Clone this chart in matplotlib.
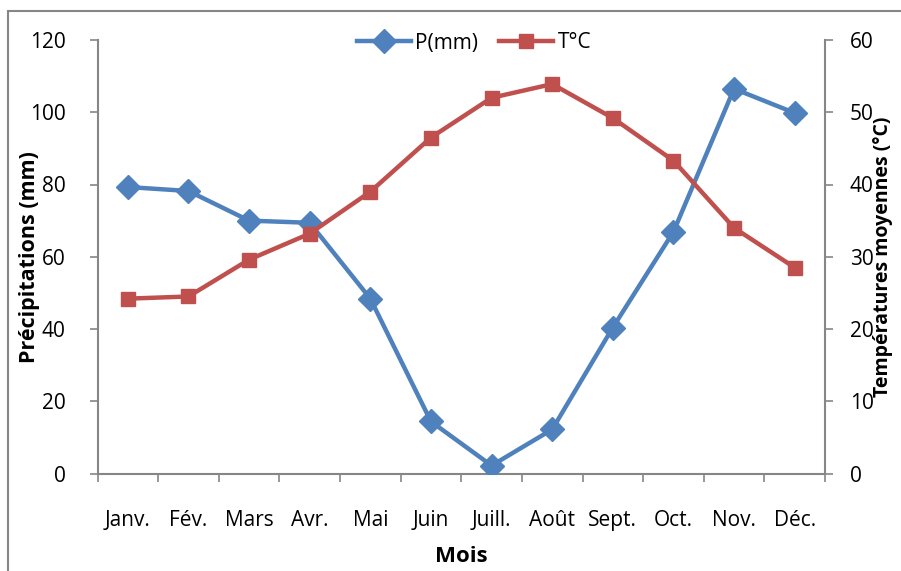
import matplotlib
matplotlib.use("Agg")
import matplotlib.pyplot as plt
from matplotlib.patches import Rectangle

months = ["Janv.", "Fév.", "Mars", "Avr.", "Mai", "Juin", "Juill.", "Août", "Sept.", "Oct.", "Nov.", "Déc."]
precip = [79.3, 78.2, 70.0, 69.4, 48.4, 14.4, 2.2, 12.2, 40.4, 66.9, 106.5, 99.8]
temp = [24.2, 24.5, 29.6, 33.2, 39.0, 46.5, 52.0, 53.9, 49.2, 43.3, 34.0, 28.5]
left_ticks = [0, 20, 40, 60, 80, 100, 120]
right_ticks = [0, 10, 20, 30, 40, 50, 60]

plt.rcParams['font.family'] = ['Open Sans', 'DejaVu Sans']
W, H = 901, 571
fig = plt.figure(figsize=(W / 100, H / 100), dpi=100)
ax = fig.add_axes([97.5 / W, 1 - 473.5 / H, (825 - 97.5) / W, (473.5 - 40) / H])
ax2 = ax.twinx()

gray = "#868686"
blue = "#4F81BD"
red = "#C0504D"
fs = 15
AW, AH = 825 - 97.5, 473.5 - 40

x = [i + 0.5 for i in range(len(months))]
l1, = ax.plot(x, precip, color=blue, lw=3.2, marker="D", ms=12, label="P(mm)", zorder=3)
l2, = ax2.plot(x, temp, color=red, lw=3.2, marker="s", ms=10, label="T°C", zorder=3)

ax.set_xlim(0, 12)
ax.set_ylim(0, 120)
ax2.set_ylim(0, 60)
ax.set_yticks(left_ticks)
ax2.set_yticks(right_ticks)
ax.set_xticks(range(13))
ax.set_xticklabels([])
ax.set_xticks(x, minor=True)
ax.set_xticklabels(months, minor=True)
ax.tick_params(axis="x", which="minor", length=0, pad=26, labelsize=fs)
ax.tick_params(axis="x", which="major", length=6, color=gray, width=1.2)
ax.tick_params(axis="y", length=6, color=gray, width=1.2, labelsize=fs, pad=17)
ax2.tick_params(axis="y", length=6, color=gray, width=1.2, labelsize=fs, pad=12)

for a in (ax, ax2):
    for s in a.spines.values():
        s.set_visible(False)
ax.spines["left"].set_visible(True)
ax.spines["bottom"].set_visible(True)
ax2.spines["right"].set_visible(True)
for s in (ax.spines["left"], ax.spines["bottom"], ax2.spines["right"]):
    s.set_color(gray)
    s.set_linewidth(1.5)

ax.set_ylabel("Précipitations (mm)", fontsize=15.5, fontweight="bold")
ax.yaxis.set_label_coords(-(97.5 - 40) / AW, 0.5)
ax2.set_ylabel("Températures moyennes (°C)", fontsize=14, fontweight="bold")
ax2.yaxis.set_label_coords(1 + (873 - 825) / AW, 0.5)
ax.set_xlabel("Mois", fontsize=16, fontweight="bold")
ax.xaxis.set_label_coords(0.5, -(546 - 473.5) / AH)

leg = ax.legend(handles=[l1, l2], loc="center", bbox_to_anchor=((474 - 97.5) / AW, 1 - 3 / AH),
                ncol=2, frameon=False, fontsize=fs, handlelength=2.6, columnspacing=1.0, handletextpad=0.2)

fig.patches.append(Rectangle((8 / W, -0.1), 1.2, 1 - 11 / H + 0.1, transform=fig.transFigure,
                             fill=False, edgecolor=gray, lw=1.5, zorder=0))

fig.savefig("out.png", dpi=100)
